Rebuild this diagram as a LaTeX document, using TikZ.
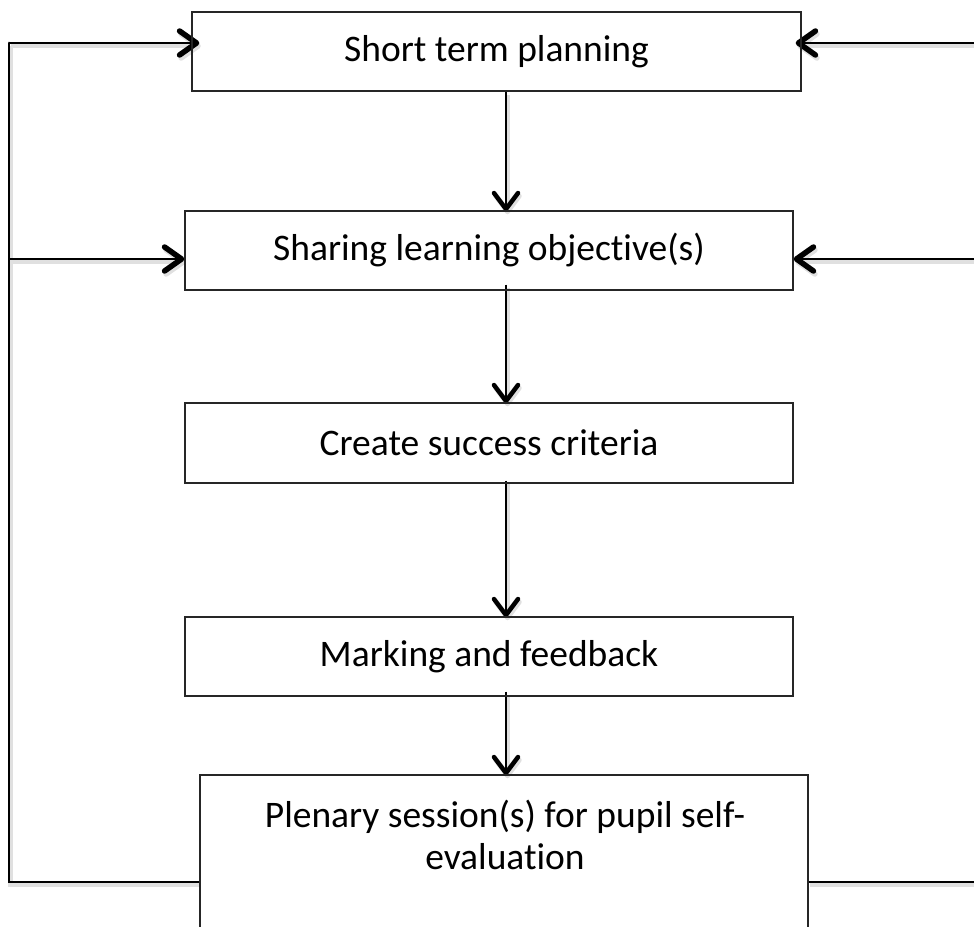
\documentclass[tikz,border=0pt]{standalone}
\usepackage{fontspec}
\setmainfont{Carlito}[Ligatures={NoCommon}]
\usetikzlibrary{arrows.meta,calc}
\pgfdeclarelayer{bg}
\pgfsetlayers{bg,main}
\begin{document}
\begin{tikzpicture}[x=1pt,y=-1pt,
  box/.style={draw=black!85, line width=1.4pt, inner sep=0pt, font=\fontsize{37.5}{42}\selectfont},
  shad/.style={preaction={draw=black!12, line width=4.5pt, transform canvas={shift={(1.5,3)}}}},
  flow/.style={shad, line width=2.5pt, -{Straight Barb[length=16pt,width=24pt,line width=4.5pt,round]}},
  fb/.style={shad, line width=2.7pt, line cap=round},
  fbarr/.style={shad, line width=2.7pt, -{Straight Barb[length=17pt,width=24pt,line width=5.5pt,round]}},
  txt/.style={font=\fontsize{37.5}{42}\selectfont, align=center, inner sep=0pt}
]
\useasboundingbox (0,0) rectangle (974,926);
\node[box, minimum width=609pt, minimum height=79pt] (b1) at (496.5,51.5) {Short term planning};
\node[box, minimum width=608pt, minimum height=79pt] (b2) at (489,250.5) {Sharing learning objective(s)};
\node[box, minimum width=608pt, minimum height=80pt] (b3) at (489,443) {Create success criteria};
\node[box, minimum width=608pt, minimum height=79pt] (b4) at (489,656.5) {Marking and feedback};
\node[box, minimum width=608pt, minimum height=166pt] (b5) at (504,858) {};
\node[txt] (t5) at (505,835) {Plenary session(s) for pupil self-\\evaluation};
\coordinate (ax) at (506,0);
\coordinate (lx) at (9,0);
\coordinate (rx) at (990,0);
\coordinate (y1) at (0,43);
\coordinate (y2) at (0,259);
\coordinate (y5) at (0,882);
\begin{pgfonlayer}{bg}
% vertical flow arrows
\draw[flow] (b1.south -| ax) -- ($(b2.north -| ax)+(0,1)$);
\draw[flow] ($(b2.south -| ax)+(0,-6)$) -- ($(b3.north -| ax)+(0,1)$);
\draw[flow] ($(b3.south -| ax)+(0,-3)$) -- ($(b4.north -| ax)+(0,1)$);
\draw[flow] ($(b4.south -| ax)+(0,-5)$) -- ($(b5.north -| ax)+(0,1)$);
% left feedback loop
\draw[fb] (b5.west |- y5) -- (lx |- y5) -- (lx |- y1);
\draw[fbarr] (lx |- y1) -- ($(b1.west |- y1)+(8,0)$);
\draw[fbarr] (lx |- y2) -- ($(b2.west |- y2)+(0,0)$);
% right feedback loop
\draw[fb] (b5.east |- y5) -- (rx |- y5);
\draw[fbarr] (rx |- y1) -- ($(b1.east |- y1)+(-6,0)$);
\draw[fbarr] (rx |- y2) -- ($(b2.east |- y2)+(0,0)$);
\end{pgfonlayer}
\end{tikzpicture}
\end{document}
